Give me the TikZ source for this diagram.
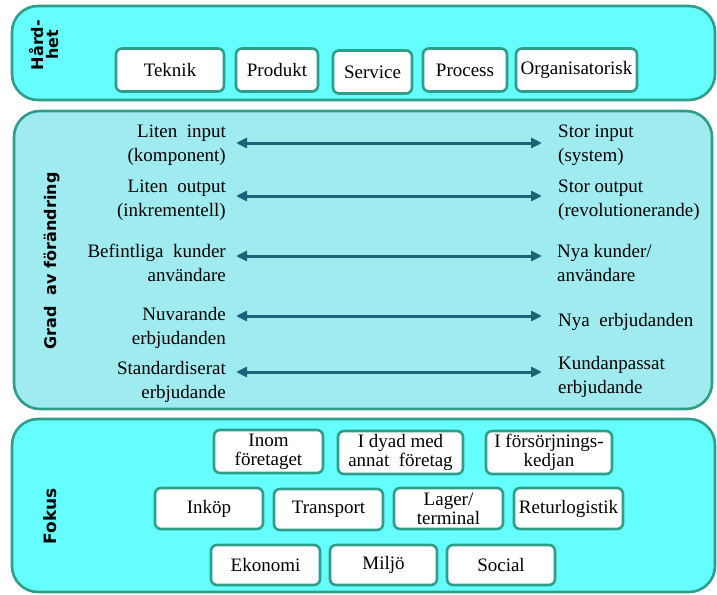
\documentclass[tikz,border=0pt]{standalone}
\usepackage{fontspec}
\setmainfont{Liberation Serif}
\newfontfamily\lblfont{DejaVu Sans}
\usetikzlibrary{arrows.meta}
\definecolor{cyanfill}{HTML}{66FFFF}
\definecolor{midfill}{HTML}{A0EBF0}
\definecolor{tealline}{HTML}{2E9E88}
\definecolor{arrowcol}{HTML}{1C6378}
\tikzset{
  panel/.style={draw=tealline, line width=2.6pt, rounded corners=26pt},
  ibox/.style={draw=tealline, line width=2.6pt, fill=white, rounded corners=6pt, inner sep=1pt, align=center, font=\fontsize{19}{19}\selectfont},
  sidelbl/.style={rotate=90, font=\lblfont\bfseries\fontsize{16}{15}\selectfont, align=center},
  ltxt/.style={anchor=east, align=right, font=\fontsize{19}{24}\selectfont, inner sep=0pt},
  rtxt/.style={anchor=west, align=left, font=\fontsize{19}{24}\selectfont, inner sep=0pt},
  dbl/.style={{Triangle[width=10pt,length=11pt]}-{Triangle[width=10pt,length=11pt]}, line width=3pt, draw=arrowcol}
}
\begin{document}
\begin{tikzpicture}[x=1pt,y=-1pt]
\useasboundingbox (0,0) rectangle (717,594);
% panels
\draw[panel, fill=cyanfill] (12,6) rectangle (715,100);
\draw[panel, fill=midfill] (14,111) rectangle (712,409);
\draw[panel, fill=cyanfill] (12,419) rectangle (715,592);

% Hårdhet
\node[sidelbl] (hard) at (44,45) {Hård-\\het};
\node[ibox, minimum width=108pt, minimum height=43pt] (teknik) at (170,70) {Teknik};
\node[ibox, minimum width=82pt, minimum height=43pt] (produkt) at (277,70) {Produkt};
\node[ibox, minimum width=79pt, minimum height=43pt] (service) at (372.5,72) {Service};
\node[ibox, minimum width=84pt, minimum height=43pt] (process) at (465,70) {Process};
\node[ibox, minimum width=121pt, minimum height=43pt] (org) at (576.5,70) {Organisatorisk};

% Grad av förändring
\node[sidelbl] (grad) at (52,261) {Grad\ \ av förändring};

\node[ltxt] (l1) at (226,145) {Liten\ \ input\\(komponent)};
\node[ltxt] (l2) at (226,200) {Liten\ \ output\\(inkrementell)};
\node[ltxt] (l3) at (226,263) {Befintliga\ \ kunder\\användare};
\node[ltxt] (l4) at (226,328) {Nuvarande\\erbjudanden};
\node[ltxt] (l5) at (226,382) {Standardiserat\\erbjudande};

\node[rtxt] (r1) at (558,145) {Stor input\\(system)};
\node[rtxt] (r2) at (558,200) {Stor output\\(revolutionerande)};
\node[rtxt] (r3) at (557,263) {Nya kunder/\\användare};
\node[rtxt] (r4) at (558,322) {Nya\ \ erbjudanden};
\node[rtxt] (r5) at (558,377) {Kundanpassat\\erbjudande};

\foreach \i/\y in {1/143,2/196,3/256,4/316,5/372}{
  \coordinate (al\i) at (236,\y);
  \coordinate (ar\i) at (542,\y);
  \draw[dbl] (al\i) -- (ar\i);
}

% Fokus
\node[sidelbl, font=\lblfont\bfseries\fontsize{17}{17}\selectfont] (fokus) at (50,516) {Fokus};
\node[ibox, minimum width=109pt, minimum height=43pt] (inom) at (268.5,451.5) {Inom\\företaget};
\node[ibox, minimum width=125pt, minimum height=43pt] (dyad) at (400.5,452.5) {I dyad med\\annat\ \ företag};
\node[ibox, minimum width=126pt, minimum height=43pt] (fors) at (549,452.5) {I försörjnings-\\kedjan};

\node[ibox, minimum width=108pt, minimum height=41pt] (inkop) at (209,508.5) {Inköp};
\node[ibox, minimum width=109pt, minimum height=41pt] (transport) at (328.5,509.5) {Transport};
\node[ibox, minimum width=109pt, minimum height=41pt] (lager) at (448.5,508.5) {Lager/\\terminal};
\node[ibox, minimum width=109pt, minimum height=41pt] (retur) at (568.5,508.5) {Returlogistik};

\node[ibox, minimum width=109pt, minimum height=40pt] (ekonomi) at (265.5,565) {Ekonomi};
\node[ibox, minimum width=107pt, minimum height=40pt] (miljo) at (383.5,565) {Miljö};
\node[ibox, minimum width=108pt, minimum height=40pt] (social) at (501,565) {Social};
\end{tikzpicture}
\end{document}
